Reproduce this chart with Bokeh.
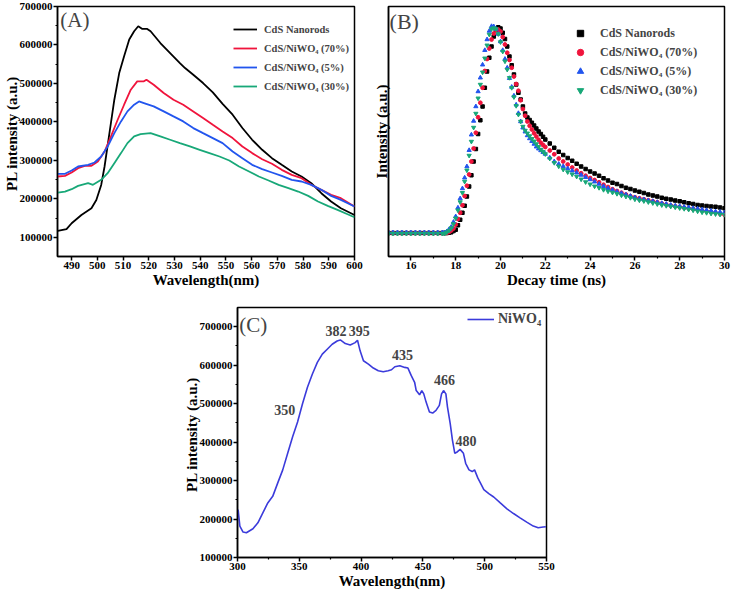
from bokeh.plotting import figure
from bokeh.models import (FixedTicker, BasicTickFormatter, Legend, LegendItem,
                          Label, Range1d, Spacer)
from bokeh.layouts import column, row
from bokeh.embed import file_html
from bokeh.resources import INLINE

FONT = "Liberation Serif"

# ---------------- Panel A data (PL spectra) ----------------
a_black_x = [484.6, 488.0, 490.0, 493.8, 497.7, 499.6, 501.5, 502.8, 504.7, 506.6, 508.5, 510.4, 512.4,
             514.3, 515.9, 517.5, 519.4, 520.7, 524.5, 528.3, 532.1, 534.1, 537.3, 541.1, 544.9, 548.7,
             552.6, 556.4, 560.2, 564.1, 567.9, 571.7, 575.6, 579.4, 583.2, 587.1, 590.9, 594.7, 600.0]
a_black_y = [116500, 121000, 136500, 158000, 175500, 197000, 236000, 284000, 371000, 457600, 527000,
             570500, 614000, 635600, 648600, 641700, 641700, 635600, 605000, 579000, 553000, 540000,
             522700, 501000, 476700, 447000, 418600, 384000, 353500, 327400, 305700, 288400, 271000,
             258000, 240600, 214600, 192900, 175500, 158000]
a_red_x = [484.6, 487.4, 490.0, 492.5, 495.1, 497.7, 500.2, 502.8, 505.3, 507.9, 510.4, 513.0, 515.5,
           518.1, 519.1, 521.9, 525.8, 529.6, 533.4, 537.3, 541.1, 544.9, 548.7, 552.6, 556.4, 560.2,
           564.1, 567.9, 571.7, 575.6, 579.4, 583.2, 587.1, 590.9, 594.7, 600.0]
a_red_y = [258000, 259700, 268400, 279700, 285800, 285800, 297000, 323000, 362200, 405600, 444600,
           483700, 505400, 505400, 509700, 496700, 475000, 457600, 444600, 427300, 410000, 392500,
           375200, 357800, 336000, 318800, 303000, 291000, 275300, 262300, 253600, 236300, 223300,
           210200, 201600, 179900]
a_blue_x = [484.6, 487.4, 490.0, 492.5, 496.4, 498.9, 501.5, 504.0, 506.6, 509.2, 511.7, 514.3, 516.2,
            518.1, 521.9, 525.8, 529.6, 533.4, 537.3, 541.1, 544.9, 548.7, 552.6, 556.4, 560.2, 564.1,
            567.9, 571.7, 575.6, 579.4, 583.2, 587.1, 590.9, 594.7, 600.0]
a_blue_y = [265000, 265000, 273600, 284000, 288400, 294400, 310000, 336000, 370800, 401200, 427300,
            444600, 453300, 449000, 440300, 427300, 414200, 401200, 383900, 370800, 357800, 344800,
            323000, 305700, 288400, 277100, 268400, 259700, 249300, 245000, 236300, 223300, 207600,
            197200, 179900]
a_green_x = [484.6, 487.4, 490.0, 492.5, 496.4, 498.3, 501.5, 504.0, 506.6, 509.2, 511.7, 514.3, 516.8,
             520.7, 524.5, 528.3, 532.1, 536.0, 539.8, 543.6, 547.5, 551.3, 555.1, 559.0, 562.8, 566.6,
             570.5, 574.3, 578.1, 582.0, 585.8, 589.6, 593.4, 597.3, 600.0]
a_green_y = [216300, 218900, 225000, 233700, 240600, 236300, 249300, 266700, 292700, 318800, 344800,
             362200, 368200, 370800, 362200, 353500, 344800, 336100, 327400, 318800, 310000, 299700,
             284000, 271000, 258000, 247600, 236300, 227600, 218900, 207600, 192900, 181600, 171200,
             159900, 152100]
a_labels = ["CdS Nanorods", "CdS/NiWO\u2084 (70%)", "CdS/NiWO\u2084 (5%)", "CdS/NiWO\u2084 (30%)"]
a_yticks = [100000, 200000, 300000, 400000, 500000, 600000, 700000]
a_xticks = [490, 500, 510, 520, 530, 540, 550, 560, 570, 580, 590, 600]

# ---------------- Panel B data (decay, normalised intensity) ----------------
b_time = (
    [15.0, 15.2, 15.4, 15.6, 15.8, 16.0, 16.2, 16.4, 16.6, 16.8, 17.0, 17.2, 17.4]
    + [17.5, 17.6, 17.7, 17.8, 17.9,
       18.0, 18.1, 18.2, 18.3, 18.4, 18.5, 18.6, 18.7, 18.8, 18.9,
       19.0, 19.1, 19.2, 19.3, 19.4, 19.5, 19.6, 19.7, 19.8, 19.9,
       20.0, 20.1, 20.2, 20.3, 20.4, 20.5, 20.6, 20.7, 20.8, 20.9,
       21.0, 21.1, 21.2, 21.3, 21.4, 21.5, 21.6, 21.7, 21.8, 21.9,
       22.0]
    + [22.2, 22.4, 22.6, 22.8, 23.0, 23.2, 23.4, 23.6, 23.8, 24.0,
       24.2, 24.4, 24.6, 24.8, 25.0, 25.2, 25.4, 25.6, 25.8, 26.0,
       26.2, 26.4, 26.6, 26.8, 27.0, 27.2, 27.4, 27.6, 27.8, 28.0,
       28.2, 28.4, 28.6, 28.8, 29.0, 29.2, 29.4, 29.6, 29.8, 30.0]
)
b_black = (
    [0.094, 0.094, 0.094, 0.094, 0.094, 0.094, 0.094, 0.094, 0.094, 0.094, 0.094, 0.094, 0.094]
    + [0.094, 0.094, 0.095, 0.097, 0.102,
       0.107, 0.125, 0.147, 0.175, 0.203, 0.240, 0.280, 0.325, 0.380, 0.430,
       0.490, 0.545, 0.600, 0.675, 0.740, 0.795, 0.840, 0.880, 0.905, 0.917,
       0.912, 0.895, 0.870, 0.840, 0.800, 0.765, 0.728, 0.688, 0.655, 0.628,
       0.600, 0.572, 0.556, 0.546, 0.535, 0.524, 0.512, 0.500, 0.490, 0.479,
       0.468]
    + [0.452, 0.435, 0.419, 0.406, 0.394, 0.383, 0.371, 0.360, 0.350, 0.340,
       0.332, 0.323, 0.313, 0.304, 0.295, 0.290, 0.282, 0.275, 0.270, 0.264,
       0.259, 0.254, 0.248, 0.244, 0.240, 0.235, 0.231, 0.228, 0.224, 0.221,
       0.217, 0.213, 0.210, 0.206, 0.204, 0.202, 0.200, 0.199, 0.196, 0.193]
)
b_red = (
    [0.094, 0.094, 0.094, 0.094, 0.094, 0.094, 0.094, 0.094, 0.094, 0.094, 0.094, 0.094, 0.094]
    + [0.094, 0.094, 0.098, 0.104, 0.112,
       0.128, 0.150, 0.175, 0.205, 0.242, 0.283, 0.328, 0.380, 0.432, 0.495,
       0.557, 0.615, 0.675, 0.742, 0.790, 0.832, 0.868, 0.892, 0.907, 0.908,
       0.900, 0.878, 0.848, 0.815, 0.786, 0.755, 0.720, 0.690, 0.663, 0.625,
       0.590, 0.563, 0.540, 0.523, 0.508, 0.493, 0.480, 0.467, 0.455, 0.446,
       0.438]
    + [0.424, 0.409, 0.392, 0.380, 0.368, 0.356, 0.344, 0.333, 0.323, 0.314,
       0.306, 0.297, 0.287, 0.278, 0.269, 0.262, 0.255, 0.248, 0.241, 0.237,
       0.233, 0.229, 0.225, 0.221, 0.217, 0.212, 0.208, 0.204, 0.201, 0.198,
       0.195, 0.192, 0.190, 0.187, 0.184, 0.181, 0.178, 0.175, 0.171, 0.167]
)
b_blue = (
    [0.096, 0.096, 0.096, 0.096, 0.096, 0.096, 0.096, 0.096, 0.096, 0.096, 0.096, 0.096, 0.096]
    + [0.096, 0.100, 0.108, 0.118, 0.138,
       0.160, 0.195, 0.232, 0.272, 0.315, 0.360, 0.425, 0.487, 0.542, 0.600,
       0.660, 0.715, 0.767, 0.825, 0.868, 0.902, 0.921, 0.920, 0.910, 0.890,
       0.860, 0.825, 0.790, 0.755, 0.713, 0.678, 0.643, 0.607, 0.573, 0.540,
       0.515, 0.499, 0.484, 0.472, 0.461, 0.450, 0.439, 0.431, 0.424, 0.417,
       0.410]
    + [0.395, 0.380, 0.370, 0.361, 0.352, 0.343, 0.335, 0.326, 0.317, 0.308,
       0.299, 0.290, 0.281, 0.273, 0.266, 0.259, 0.253, 0.247, 0.242, 0.236,
       0.231, 0.228, 0.224, 0.221, 0.217, 0.213, 0.210, 0.206, 0.203, 0.201,
       0.198, 0.196, 0.193, 0.191, 0.188, 0.185, 0.183, 0.180, 0.178, 0.176]
)
b_green = (
    [0.092, 0.092, 0.092, 0.092, 0.092, 0.092, 0.092, 0.092, 0.092, 0.092, 0.092, 0.092, 0.092]
    + [0.092, 0.097, 0.104, 0.114, 0.130,
       0.153, 0.185, 0.218, 0.255, 0.300, 0.345, 0.404, 0.460, 0.516, 0.572,
       0.633, 0.688, 0.737, 0.793, 0.845, 0.888, 0.910, 0.914, 0.910, 0.890,
       0.858, 0.820, 0.781, 0.748, 0.715, 0.675, 0.638, 0.603, 0.568, 0.540,
       0.520, 0.504, 0.493, 0.482, 0.471, 0.461, 0.450, 0.439, 0.428, 0.419,
       0.410]
    + [0.392, 0.375, 0.361, 0.348, 0.338, 0.329, 0.320, 0.309, 0.298, 0.289,
       0.281, 0.275, 0.267, 0.261, 0.256, 0.251, 0.245, 0.240, 0.235, 0.229,
       0.225, 0.222, 0.218, 0.214, 0.210, 0.206, 0.203, 0.200, 0.197, 0.194,
       0.191, 0.188, 0.185, 0.181, 0.177, 0.175, 0.172, 0.170, 0.168, 0.167]
)
b_xticks = [16, 18, 20, 22, 24, 26, 28, 30]

# ---------------- Panel C data (NiWO4 PL) ----------------
c_x = [300.5, 301.9, 304.5, 307.2, 312.5, 316.5, 320.5, 324.5, 328.5, 332.5,
       336.6, 340.6, 344.6, 348.6, 352.6, 356.6, 360.6, 364.6, 368.6, 372.6,
       376.6, 380.6, 383.2, 387.2, 391.2, 395.2, 397.1, 399.2, 401.9, 405.9,
       409.9, 413.9, 417.9, 421.9, 424.6, 427.3, 431.3, 435.3, 437.9, 440.6,
       443.3, 444.6, 447.3, 449.1, 450.7, 452.6, 455.3, 457.9, 460.6, 463.3,
       465.1, 466.7, 468.6, 469.9, 472.1, 473.9, 475.8, 478.0, 480.1, 482.8,
       484.6, 487.3, 489.9, 491.8, 494.5, 496.6, 499.3, 503.3, 507.3, 512.6,
       518.0, 523.3, 528.6, 534.0, 539.3, 543.3, 547.3, 549.5]
c_y = [224600, 181700, 166200, 164500, 174800, 190300, 216000, 241800, 259000, 293400,
       327800, 370800, 413800, 452400, 499700, 542700, 577100, 607200, 628700, 641600,
       654400, 663000, 665600, 656200, 652700, 658700, 664800, 637300, 611500, 602900,
       592500, 585700, 583100, 585700, 588200, 596000, 598600, 594300, 592500, 572800,
       555600, 534100, 523000, 534100, 525500, 504000, 478200, 475600, 482500, 495400,
       525500, 534100, 525500, 491100, 448100, 405200, 370800, 375100, 381100, 370800,
       345000, 327800, 323500, 327800, 306300, 293400, 276200, 265900, 257300, 241800,
       226400, 214300, 203200, 192000, 181700, 177400, 179100, 180000]
c_peak_text = ["350", "382", "395", "435", "466", "480"]
c_peak_x = [338.3, 379.6, 398.6, 433.4, 467.4, 484.9]
c_peak_y = [484800, 688400, 688400, 627000, 562000, 404200]
c_xticks = [300, 350, 400, 450, 500, 550]
c_yticks = [100000, 200000, 300000, 400000, 500000, 600000, 700000]

C_BLACK = "#000000"
C_RED = "#f0143c"
C_BLUE = "#2255ee"
C_GREEN = "#18a878"
C_VIOLET = "#3b3bdb"


def style(p, xlabel, ylabel):
    p.outline_line_color = "black"
    p.outline_line_width = 1.5
    p.xgrid.visible = False
    p.ygrid.visible = False
    p.background_fill_color = "white"
    p.border_fill_color = "white"
    for ax in (p.xaxis[0], p.yaxis[0]):
        ax.axis_line_width = 1.5
        ax.major_tick_line_width = 1.5
        ax.minor_tick_line_width = 1.2
        ax.major_tick_in = 0
        ax.major_tick_out = 4
        ax.minor_tick_in = 0
        ax.minor_tick_out = 2
        ax.major_label_text_font = FONT
        ax.major_label_text_font_style = "bold"
        ax.major_label_text_font_size = "11px"
        ax.major_label_text_color = "black"
        ax.axis_label_text_font = FONT
        ax.axis_label_text_font_style = "bold"
        ax.axis_label_text_font_size = "15px"
        ax.axis_label_text_color = "black"
        ax.major_label_standoff = 1
        ax.axis_label_standoff = 0
    p.xaxis[0].axis_label = xlabel
    p.yaxis[0].axis_label = ylabel
    p.yaxis[0].axis_label_standoff = -3


# ---------------- Panel A ----------------
pA = figure(width=370, height=290, output_backend="svg", toolbar_location=None,
            x_range=Range1d(484.5, 600), y_range=Range1d(50000, 700000),
            min_border_left=52, min_border_right=16, min_border_top=6, min_border_bottom=34)
style(pA, "Wavelength(nm)", "PL  intensity (a.u.)")
pA.xaxis[0].ticker = FixedTicker(ticks=a_xticks)
pA.yaxis[0].ticker = FixedTicker(ticks=a_yticks, minor_ticks=[150000, 250000, 350000, 450000, 550000, 650000])
pA.yaxis[0].formatter = BasicTickFormatter(use_scientific=False)

rA = []
for xs, ys, col in ((a_black_x, a_black_y, C_BLACK), (a_red_x, a_red_y, C_RED),
                    (a_blue_x, a_blue_y, C_BLUE), (a_green_x, a_green_y, C_GREEN)):
    rA.append(pA.line(xs, ys, line_color=col, line_width=1.8))
legA = Legend(items=[LegendItem(label=l, renderers=[r]) for l, r in zip(a_labels, rA)],
              location=(172, 158), label_text_font=FONT, label_text_font_style="bold",
              label_text_font_size="10.5px", glyph_width=24, glyph_height=16, label_height=16,
              label_standoff=7, spacing=3, padding=4, margin=0,
              border_line_alpha=0, background_fill_alpha=0)
pA.add_layout(legA)
pA.add_layout(Label(x=485.6, y=696000, text="(A)", text_font=FONT, text_font_size="21px",
                    text_baseline="top", text_align="left"))

# ---------------- Panel B ----------------
pB = figure(width=362, height=290, output_backend="svg", toolbar_location=None,
            x_range=Range1d(15, 30), y_range=Range1d(0, 1),
            min_border_left=15, min_border_right=8, min_border_top=5, min_border_bottom=33)
style(pB, "Decay time (ns)", "Intensity (a.u.)")
pB.yaxis[0].axis_label_standoff = -1
pB.xaxis[0].ticker = FixedTicker(ticks=b_xticks, minor_ticks=[17, 19, 21, 23, 25, 27, 29])
pB.yaxis[0].ticker = FixedTicker(ticks=[], minor_ticks=[])
pB.yaxis[0].major_label_text_font_size = "0px"
pB.yaxis[0].major_tick_out = 0
pB.yaxis[0].minor_tick_out = 0

rB = [
    pB.scatter(b_time, b_black, marker="square", size=3.5, color=C_BLACK),
    pB.scatter(b_time, b_red, marker="circle", size=3.8, color=C_RED),
    pB.scatter(b_time, b_blue, marker="triangle", size=4.2, color=C_BLUE),
    pB.scatter(b_time, b_green, marker="inverted_triangle", size=4.2, color=C_GREEN),
]
legB = Legend(items=[LegendItem(label=l, renderers=[r]) for l, r in zip(a_labels, rB)],
              location=(180, 154), label_text_font=FONT, label_text_font_style="bold",
              label_text_font_size="12px", glyph_width=16, glyph_height=16, label_height=16,
              label_standoff=12, spacing=3, padding=4, margin=0,
              border_line_alpha=0, background_fill_alpha=0)
pB.add_layout(legB)
pB.add_layout(Label(x=15.05, y=0.99, text="(B)", text_font=FONT, text_font_size="22px",
                    text_baseline="top", text_align="left"))

# ---------------- Panel C ----------------
pC = figure(width=380, height=305, output_backend="svg", toolbar_location=None,
            x_range=Range1d(300, 550), y_range=Range1d(100000, 750000),
            min_border_left=55, min_border_right=14, min_border_top=17, min_border_bottom=38)
style(pC, "Wavelength(nm)", "PL  intensity (a.u.)")
pC.xaxis[0].ticker = FixedTicker(ticks=c_xticks, minor_ticks=[325, 375, 425, 475, 525])
pC.yaxis[0].ticker = FixedTicker(ticks=c_yticks, minor_ticks=[150000, 250000, 350000, 450000, 550000, 650000])
pC.yaxis[0].formatter = BasicTickFormatter(use_scientific=False)

rC = pC.line(c_x, c_y, line_color=C_VIOLET, line_width=1.6)
legC = Legend(items=[LegendItem(label="NiWO\u2084", renderers=[rC])],
              location=(226, 225), label_text_font=FONT, label_text_font_style="bold",
              label_text_font_size="14px", glyph_width=27, glyph_height=18, label_height=18,
              label_standoff=4, spacing=0, padding=4, margin=0,
              border_line_alpha=0, background_fill_alpha=0)
pC.add_layout(legC)
for t, px, py in zip(c_peak_text, c_peak_x, c_peak_y):
    pC.add_layout(Label(x=px, y=py, text=t, text_font=FONT, text_font_size="14px",
                        text_font_style="bold", text_align="center", text_baseline="middle"))
pC.add_layout(Label(x=301.5, y=737000, text="(C)", text_font=FONT, text_font_size="21px",
                    text_baseline="top", text_align="left"))

layout = column(row(pA, pB, spacing=0),
                row(Spacer(width=180, height=305), pC, spacing=0),
                spacing=0)

with open("out.html", "w") as f:
    f.write(file_html(layout, INLINE))
